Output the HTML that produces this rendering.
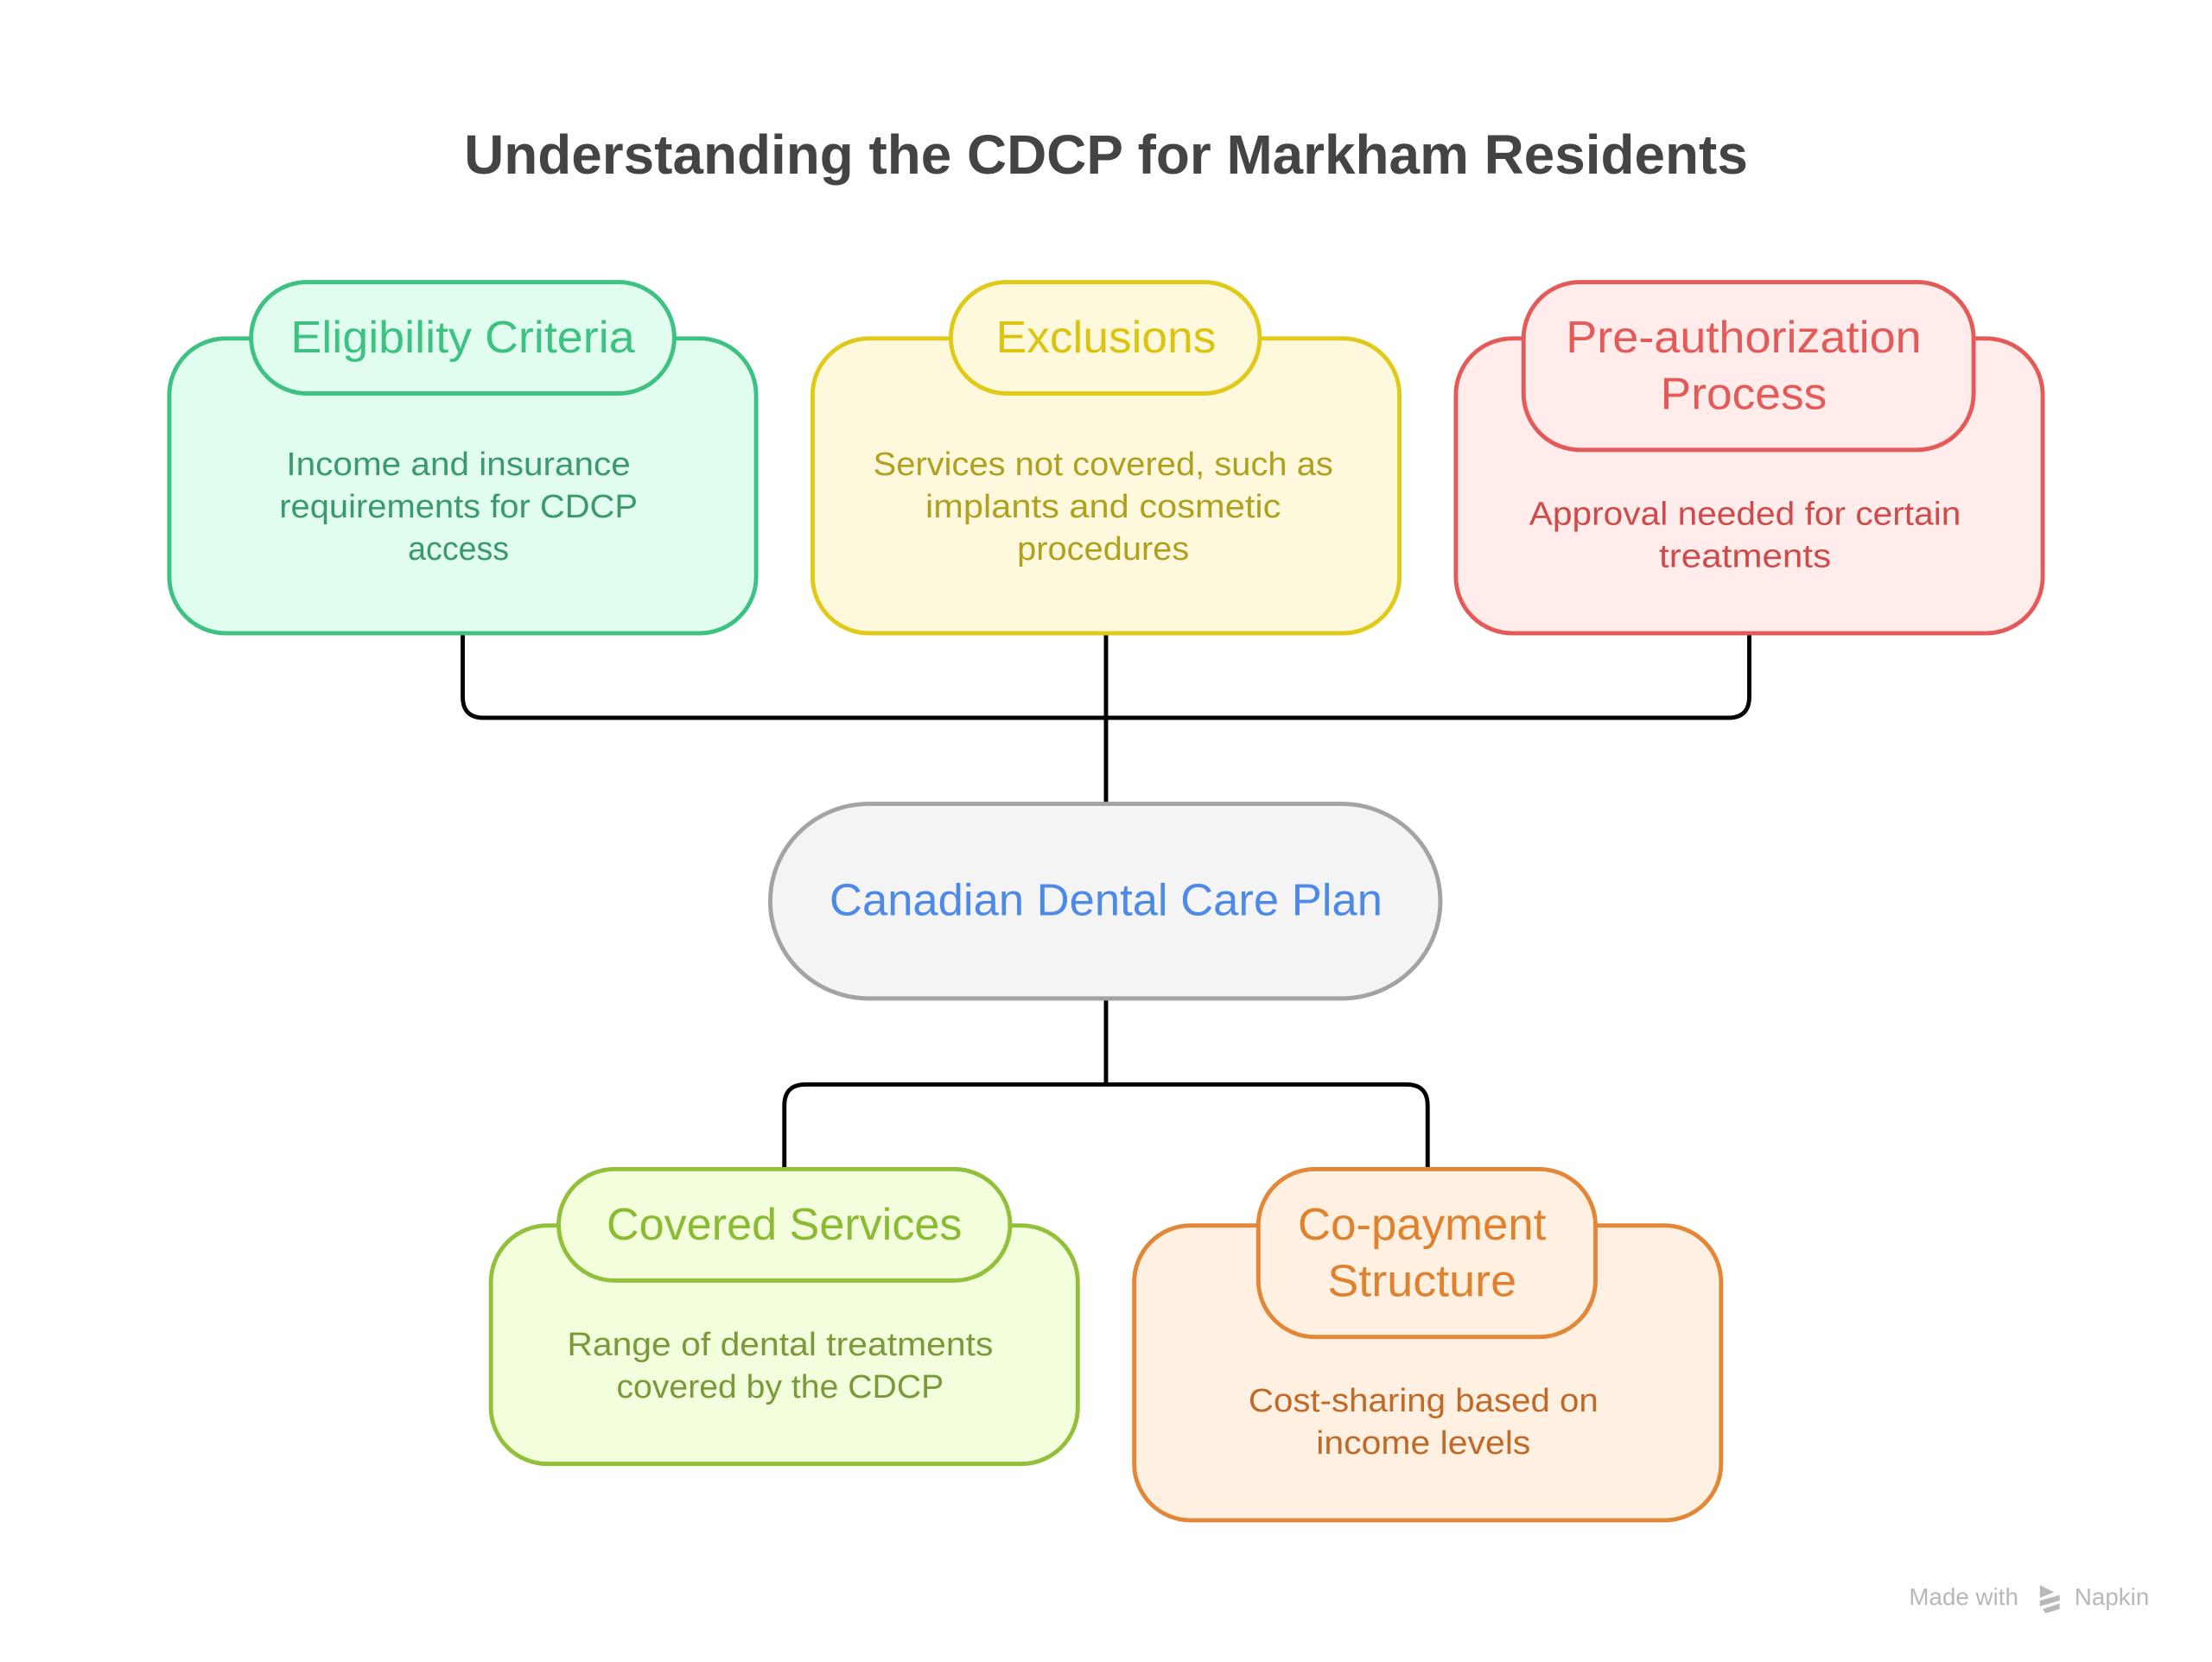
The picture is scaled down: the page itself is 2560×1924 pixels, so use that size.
<!DOCTYPE html>
<html><head><meta charset="utf-8"><style>html,body{margin:0;padding:0;background:#fff}svg{display:block}</style></head><body>
<svg width="2560" height="1924" viewBox="0 0 1568 1178.5" preserveAspectRatio="none" xmlns="http://www.w3.org/2000/svg" font-family="Liberation Sans, sans-serif">
<rect width="1568" height="1178.5" fill="#fff"/>
<text x="784" y="123" text-anchor="middle" font-size="39" font-weight="bold" fill="#444" textLength="910" lengthAdjust="spacingAndGlyphs">Understanding the CDCP for Markham Residents</text>
<g fill="none" stroke="#000" stroke-width="3">
<path d="M328 449 V494 Q328 509 343 509 H1225 Q1240 509 1240 494 V449"/>
<path d="M784 449 V570"/>
<path d="M784 708 V769"/>
<path d="M556 829 V784 Q556 769 571 769 H997 Q1012 769 1012 784 V829"/>
</g>
<g stroke-width="3">
<rect x="120" y="240" width="416" height="209" rx="40" fill="#e1fdf0" stroke="#3dc283"/>
<rect x="178" y="200" width="300" height="79" rx="39.5" fill="#e1fdf0" stroke="#3dc283"/>
<rect x="576" y="240" width="416" height="209" rx="40" fill="#fef9dc" stroke="#e1c918"/>
<rect x="674" y="200" width="219" height="79" rx="39.5" fill="#fef9dc" stroke="#e1c918"/>
<rect x="1032" y="240" width="416" height="209" rx="40" fill="#ffeceb" stroke="#e45a59"/>
<rect x="1080" y="200" width="319" height="119" rx="40" fill="#ffeceb" stroke="#e45a59"/>
<rect x="546" y="570" width="475" height="138" rx="70" fill="#f4f4f4" stroke="#a3a3a3"/>
<rect x="348" y="869" width="416" height="169" rx="40" fill="#f2fedc" stroke="#92c03b"/>
<rect x="396" y="829" width="320" height="79" rx="39.5" fill="#f2fedc" stroke="#92c03b"/>
<rect x="804" y="869" width="416" height="209" rx="40" fill="#fff0e2" stroke="#e28737"/>
<rect x="892" y="829" width="239" height="119" rx="40" fill="#fff0e2" stroke="#e28737"/>
</g>
<g text-anchor="middle" font-size="32">
<text x="328" y="250" fill="#3dc283" textLength="244" lengthAdjust="spacingAndGlyphs">Eligibility Criteria</text>
<text x="784" y="250" fill="#dcc30f" textLength="156" lengthAdjust="spacingAndGlyphs">Exclusions</text>
<text x="1236" y="250" fill="#e45a59" textLength="252" lengthAdjust="spacingAndGlyphs">Pre-authorization</text>
<text x="1236" y="290" fill="#e45a59" textLength="118" lengthAdjust="spacingAndGlyphs">Process</text>
<text x="784" y="649" fill="#4d8ae8" textLength="392" lengthAdjust="spacingAndGlyphs">Canadian Dental Care Plan</text>
<text x="556" y="879" fill="#8bbb33" textLength="252" lengthAdjust="spacingAndGlyphs">Covered Services</text>
<text x="1008" y="879" fill="#e0812d" textLength="176" lengthAdjust="spacingAndGlyphs">Co-payment</text>
<text x="1008" y="919" fill="#e0812d" textLength="134" lengthAdjust="spacingAndGlyphs">Structure</text>
</g>
<g text-anchor="middle" font-size="23">
<g fill="#3a9a6b">
<text x="325" y="337" textLength="244" lengthAdjust="spacingAndGlyphs">Income and insurance</text>
<text x="325" y="367" textLength="254" lengthAdjust="spacingAndGlyphs">requirements for CDCP</text>
<text x="325" y="397">access</text>
</g>
<g fill="#b0a020">
<text x="782" y="337" textLength="326" lengthAdjust="spacingAndGlyphs">Services not covered, such as</text>
<text x="782" y="367" textLength="252" lengthAdjust="spacingAndGlyphs">implants and cosmetic</text>
<text x="782" y="397" textLength="122" lengthAdjust="spacingAndGlyphs">procedures</text>
</g>
<g fill="#cf4a4a">
<text x="1237" y="372" textLength="306" lengthAdjust="spacingAndGlyphs">Approval needed for certain</text>
<text x="1237" y="402" textLength="122" lengthAdjust="spacingAndGlyphs">treatments</text>
</g>
<g fill="#7a9a3a">
<text x="553" y="961" textLength="302" lengthAdjust="spacingAndGlyphs">Range of dental treatments</text>
<text x="553" y="991" textLength="232" lengthAdjust="spacingAndGlyphs">covered by the CDCP</text>
</g>
<g fill="#c06a2a">
<text x="1009" y="1001" textLength="248" lengthAdjust="spacingAndGlyphs">Cost-sharing based on</text>
<text x="1009" y="1031" textLength="152" lengthAdjust="spacingAndGlyphs">income levels</text>
</g>
</g>
<text x="1392" y="1138" text-anchor="middle" font-size="17" fill="#b8b8b8">Made with</text>
<path d="M1446 1124 l10 5 -10 4 z M1446 1135 l14 -4 v4 l-14 4z M1448 1141 l12 -4 v4 l-10 3z" fill="#b8b8b8"/>
<text x="1497" y="1138" text-anchor="middle" font-size="17" fill="#b8b8b8">Napkin</text>
</svg>
</body></html>
